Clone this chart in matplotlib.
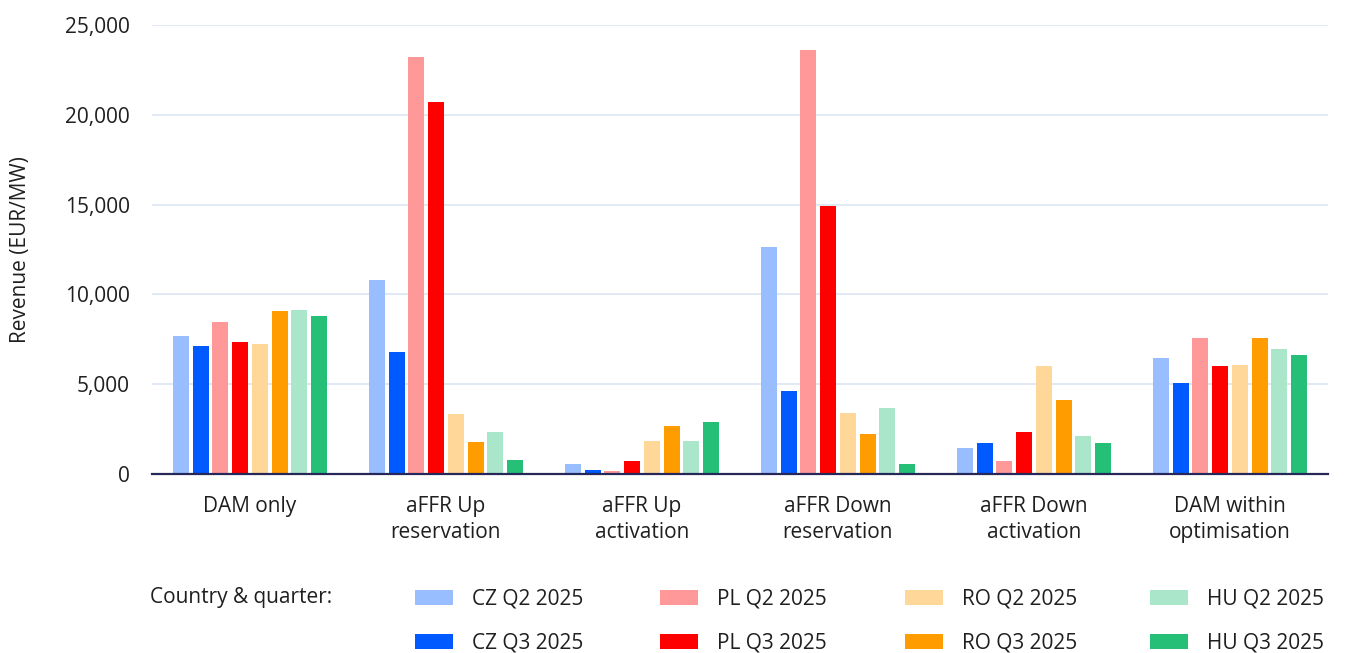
import matplotlib
matplotlib.use("Agg")
import matplotlib.pyplot as plt
import numpy as np
from matplotlib.patches import Patch

plt.rcParams["font.family"] = ["Open Sans", "DejaVu Sans"]

categories = ["DAM only", "aFFR Up\nreservation", "aFFR Up\nactivation",
              "aFFR Down\nreservation", "aFFR Down\nactivation", "DAM within\noptimisation"]

series_labels = ["CZ Q2 2025", "CZ Q3 2025", "PL Q2 2025", "PL Q3 2025",
                 "RO Q2 2025", "RO Q3 2025", "HU Q2 2025", "HU Q3 2025"]

cz_q2 = [7670, 10790, 530, 12650, 1470, 6480]
cz_q3 = [7120, 6790, 250, 4640, 1750, 5090]
pl_q2 = [8450, 23240, 140, 23600, 700, 7590]
pl_q3 = [7340, 20740, 700, 14930, 2360, 6030]
ro_q2 = [7230, 3340, 1810, 3420, 6030, 6090]
ro_q3 = [9060, 1780, 2700, 2250, 4140, 7590]
hu_q2 = [9120, 2340, 1810, 3700, 2090, 6980]
hu_q3 = [8790, 780, 2920, 530, 1750, 6650]

series_values = [cz_q2, cz_q3, pl_q2, pl_q3, ro_q2, ro_q3, hu_q2, hu_q3]
colors = ["#99BEFF", "#005AFF", "#FF9999", "#FF0000",
          "#FFD799", "#FF9C00", "#A9E6CA", "#25BF78"]

y_ticks = [0, 5000, 10000, 15000, 20000, 25000]

text_color = "#1f1f1f"
fs = 15
W, H = 1346, 653
fig = plt.figure(figsize=(W / 100, H / 100), dpi=100)
ax = fig.add_axes([152 / W, (H - 474) / H, (1328 - 152) / W, (474 - 25) / H])

x = np.arange(len(categories))
step = 0.1005
width = 0.0816
n = len(series_values)
for i, (vals, col, lab) in enumerate(zip(series_values, colors, series_labels)):
    ax.bar(x + (i - (n - 1) / 2) * step, vals, width=width, color=col,
           label=lab, zorder=3, linewidth=0)

ax.set_xlim(-0.5, len(categories) - 0.5)
ax.set_ylim(0, 25000)
ax.set_yticks(y_ticks)
ax.set_yticklabels([f"{v:,}" for v in y_ticks])
ax.set_xticks(x)
ax.set_xticklabels(categories, linespacing=1.36)

ax.tick_params(axis="y", length=0, pad=16, labelsize=fs, labelcolor=text_color)
ax.tick_params(axis="x", length=0, pad=15.5, labelsize=fs, labelcolor=text_color)

ax.grid(axis="y", color="#dfe7f6", linewidth=1.3, zorder=0)
ax.set_axisbelow(True)
for side in ["top", "right", "left"]:
    ax.spines[side].set_visible(False)
ax.spines["bottom"].set_color("#27285a")
ax.spines["bottom"].set_linewidth(1.6)
ax.spines["bottom"].set_zorder(4)

ax.set_ylabel("Revenue (EUR/MW)", fontsize=fs, color=text_color, labelpad=0)
ax.yaxis.set_label_coords(-121 / (1328 - 152), 0.5)

# Legend: title text plus one two-row block per country
fig.text(150 / W, 1 - 598 / H, "Country & quarter:", fontsize=fs,
         color=text_color, ha="left", va="center")

handles = [Patch(facecolor=c, edgecolor="none") for c in colors]
col_x = [415, 660, 905, 1150]
for k in range(4):
    fig.legend(handles[2 * k:2 * k + 2], series_labels[2 * k:2 * k + 2],
               loc="upper left", bbox_to_anchor=(col_x[k] / W, 1 - 589 / H),
               frameon=False, fontsize=fs, handlelength=1.8,
               handleheight=0.76, handletextpad=0.92, labelspacing=1.08,
               borderpad=0, borderaxespad=0, labelcolor=text_color)

fig.savefig("out.png", dpi=100)
